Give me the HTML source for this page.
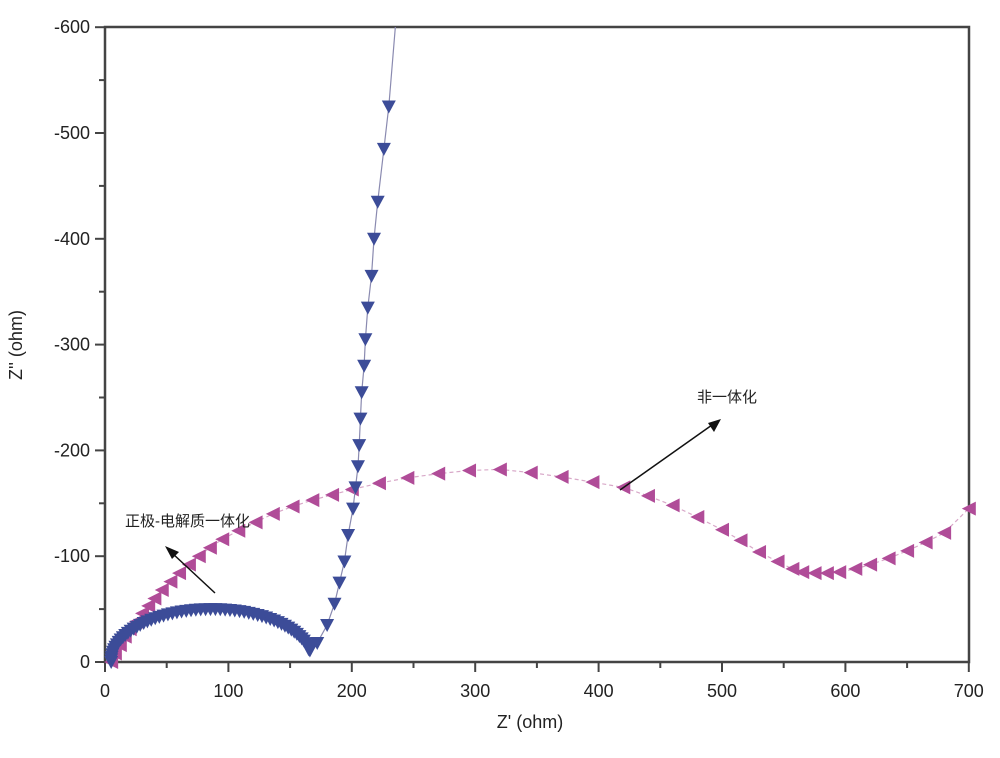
<!DOCTYPE html>
<html><head><meta charset="utf-8"><style>
html,body{margin:0;padding:0;background:#fff;}
svg text{font-family:"Liberation Sans","Noto Sans CJK SC",sans-serif;fill:#222;}
</style></head><body>
<svg id="s" width="1000" height="753" viewBox="0 0 1000 753" xmlns="http://www.w3.org/2000/svg">
<defs><clipPath id="c"><rect x="95" y="27" width="900" height="645"/></clipPath></defs>
<rect x="105" y="27" width="864" height="635" fill="none" stroke="#444" stroke-width="2.5"/>
<g id="ticks" stroke="#444" stroke-width="2"></g>
<g id="lab" font-size="18"></g>
<text x="530" y="728" font-size="18" text-anchor="middle">Z' (ohm)</text>
<text transform="translate(22,345) rotate(-90)" font-size="18" text-anchor="middle">Z'' (ohm)</text>
<g id="pink" clip-path="url(#c)"></g>
<g id="blue" clip-path="url(#c)"></g>
<text x="125" y="526" font-size="15">正极-电解质一体化</text>
<text x="697" y="402" font-size="15">非一体化</text>
<line x1="215" y1="593" x2="172" y2="553" stroke="#111" stroke-width="1.5"/>
<polygon points="165,546 179,552 172,559" fill="#111"/>
<line x1="620" y1="490" x2="712" y2="425" stroke="#111" stroke-width="1.5"/>
<polygon points="721,419 714,432 708,423" fill="#111"/>
</svg>
<script>
const NS="http://www.w3.org/2000/svg";
const X=v=>105+v*1.234, Y=v=>662-v*1.058;
function el(p,t,a){const e=document.createElementNS(NS,t);for(const k in a)e.setAttribute(k,a[k]);document.getElementById(p).appendChild(e);return e;}
for(let v=0;v<=700;v+=50){const x=X(v);el("ticks","line",{x1:x,y1:662,x2:x,y2:v%100?668:672});
 if(v%100==0){const t=el("lab","text",{x:x,y:697,"text-anchor":"middle"});t.textContent=v;}}
for(let v=0;v<=600;v+=50){const y=Y(v);el("ticks","line",{x1:105,y1:y,x2:v%100?99:95,y2:y});
 if(v%100==0){const t=el("lab","text",{x:90,y:y+6,"text-anchor":"end"});t.textContent=v?"-"+v:"0";}}
let bp=[];
for(let i=0;i<=60;i++){const t=Math.PI*i/60*0.93;bp.push([86.5-81.5*Math.cos(t),50*Math.sin(t)]);}
const tail=[[165,12],[172,18],[180,35],[186,55],[190,75],[194,95],[197,120],[201,145],[203,165],[205,185],[206,205],[207,230],[208,255],[210,280],[211,305],[213,335],[216,365],[218,400],[221,435],[226,485],[230,525],[236,610]];
bp=bp.concat(tail);
let d="M"+bp.map(p=>X(p[0]).toFixed(1)+","+Y(p[1]).toFixed(1)).join(" L");
el("blue","path",{d:d,fill:"none",stroke:"#8a8ab0","stroke-width":1.2});
bp.slice(0,-1).forEach(p=>{const x=X(p[0]),y=Y(p[1]);el("blue","polygon",{points:`${x-7},${y-6} ${x+7},${y-6} ${x},${y+7}`,fill:"#3c4c98"});});
const pk=[[5,0],[8,8],[12,16],[16,24],[20,31],[25,38],[30,46],[35,53],[40,60],[46,68],[53,76],[60,84],[68,92],[76,100],[85,108],[95,116],[108,124],[122,132],[136,140],[152,147],[168,153],[184,158],[200,163],[222,169],[245,174],[270,178],[295,181],[320,182],[345,179],[370,175],[395,170],[420,165],[440,157],[460,148],[480,137],[500,125],[515,115],[530,104],[545,95],[557,88],[565,85],[575,84],[585,84],[595,85],[608,88],[620,92],[635,98],[650,105],[665,113],[680,122],[700,145]];
d="M"+pk.map(p=>X(p[0]).toFixed(1)+","+Y(p[1]).toFixed(1)).join(" L");
el("pink","path",{d:d,fill:"none",stroke:"#d8a8c8","stroke-width":1.2,"stroke-dasharray":"4 3"});
pk.forEach(p=>{const x=X(p[0]),y=Y(p[1]);el("pink","polygon",{points:`${x+7},${y-7} ${x+7},${y+7} ${x-7},${y}`,fill:"#b04c98"});});
</script>
</body></html>
